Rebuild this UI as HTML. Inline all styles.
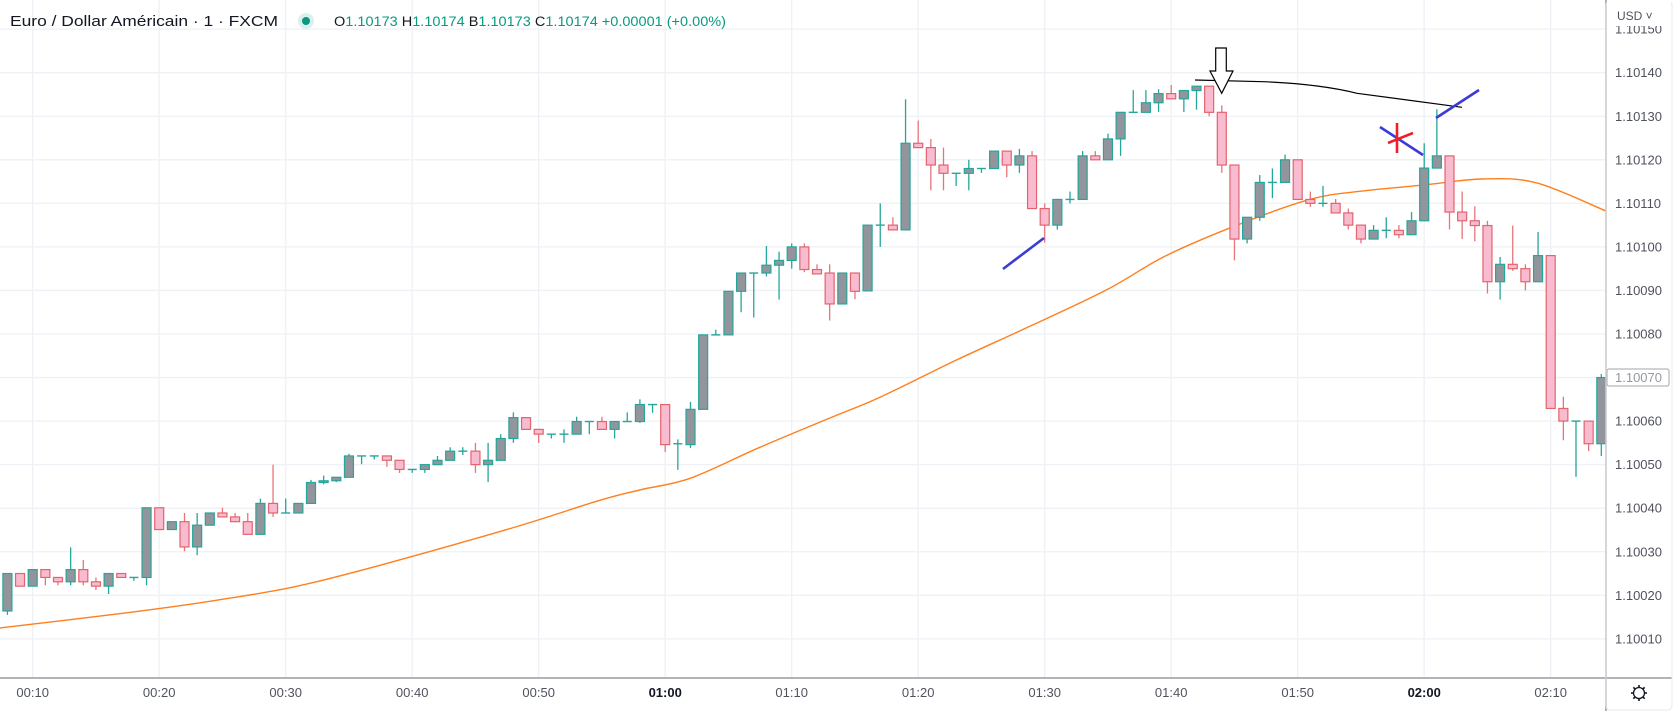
<!DOCTYPE html>
<html><head><meta charset="utf-8">
<style>
html,body{margin:0;padding:0;background:#fff;}
svg{display:block;font-family:"Liberation Sans",sans-serif;}
</style></head>
<body>
<svg id="chart" width="1674" height="711" viewBox="0 0 1674 711" xmlns="http://www.w3.org/2000/svg">
  <rect x="0" y="0" width="1674" height="711" fill="#ffffff"/>
  <g id="grid"></g>
  <g id="ma"></g>
  <g id="candles"></g>
  <g id="drawings">
    <path d="M1195,80 L1263,81.7 Q1320,84 1357,93.3 L1462,107.3" fill="none" stroke="#000" stroke-width="1.2"/>
    <path d="M1215.7,48 L1226.3,48 L1226.3,71 L1233,71 L1221.7,93.3 L1210,71 L1215.7,71 Z" fill="#fff" stroke="#000" stroke-width="1.2"/>
    <line x1="1003" y1="269" x2="1044" y2="238" stroke="#3b3bd6" stroke-width="2.6"/>
    <line x1="1380" y1="127" x2="1423" y2="155" stroke="#3b3bd6" stroke-width="2.6"/>
    <line x1="1436" y1="118" x2="1479" y2="90" stroke="#3b3bd6" stroke-width="2.6"/>
    <line x1="1397" y1="123" x2="1397" y2="153" stroke="#f01e28" stroke-width="2.6"/>
    <line x1="1388" y1="143" x2="1413" y2="133" stroke="#f01e28" stroke-width="2.6"/>
  </g>
  <g id="header">
    <text x="10" y="26" font-size="15" fill="#131722" textLength="268" lengthAdjust="spacingAndGlyphs">Euro / Dollar Américain · 1 · FXCM</text>
    <circle cx="306" cy="21" r="8" fill="#d9f0ec"/>
    <circle cx="306" cy="21" r="4" fill="#089981"/>
    <text x="334" y="26" font-size="13.5" fill="#089981" textLength="392" lengthAdjust="spacingAndGlyphs"><tspan fill="#131722">O</tspan>1.10173 <tspan fill="#131722">H</tspan>1.10174 <tspan fill="#131722">B</tspan>1.10173 <tspan fill="#131722">C</tspan>1.10174 +0.00001 (+0.00%)</text>
  </g>
  <g id="axes"></g>
</svg>
<script>
// ---- data (points above 1.10000, in 0.00001 units) ----
const startMinute = 8;
const opens  = [16.4,25,22.1,25.9,24.1,23.1,25.9,23.1,22.1,25,24.1,24.1,40.1,35.1,36.9,31.1,36.1,38.9,38,36.9,34,41.1,38.9,38.9,41.1,45.9,46.3,47.1,52,52,52,51,48.9,48.9,50,51,53.1,53.1,50,51,56,60.8,58.1,57,57,57,59.9,59.9,58.1,59.9,59.9,63.8,63.8,54.8,54.6,62.7,79.8,79.8,89.8,94,94,95.8,96.9,100,94.8,94,86.9,94,89.9,105,105,103.9,123.8,122.8,118.8,116.9,116.9,118,118,122,118.8,120.9,108.8,105,110.9,110.9,120.9,120,124.8,130.9,130.9,133.1,135.2,134,135.9,136.9,130.9,118.8,101.8,106.8,114.8,114.8,120,110.9,110,110,107.8,105,101.8,103.8,103.8,102.8,106,118.1,120.9,108,106,104.9,92,96,95,92,98,62.9,60,60,54.8];
const highs  = [25,25,25.9,25.9,24.1,31,28.1,24.1,25,25,24.1,40.1,40.1,36.9,38.9,38.9,38.9,40.1,38.9,38.9,42.2,50,42.2,41.1,46.5,47.5,47.1,52.5,52,52,52,51,48.9,50,52,54,54,55,55,57,62,60.8,58.1,57,58.1,61,59.9,61,59.9,62,65,63.8,63.8,55.8,64.4,79.8,81,89.8,94,94,100.2,98.9,100.8,100.8,96,96,94,94,105,110,106.8,133.9,129,124.8,122.8,116.9,120,118,122,122,122.5,122,110,110.9,112.7,122,122,126,130.9,136,136,136.2,137.2,135.9,136.9,136.9,132.5,118.8,106.8,116.5,118,121.2,120,112.7,114,111,108.8,105,105,106.8,105,108,123.8,131.6,120.9,112.7,109.3,106,97.7,104.9,96,103.4,98,65.6,60,60,70.8];
const lows   = [15.5,22.1,22.1,22.3,22.3,22.3,22.3,21.2,20.3,24.1,23.3,22.3,35.1,35.1,30.1,29.2,36.1,38,36.9,34,34,38,38.9,38.9,41.1,45.5,46,47.1,50.1,51.2,49.5,48.1,48.1,48.1,50,51,52.2,48.1,46,51,55,58.1,55,56,55,57,57,58.1,56,59.9,59.6,61.9,52.9,48.8,53.8,62.7,79.8,79.8,85,83.8,93.2,87.9,95,94.2,93.8,83.1,86.9,88,89.9,100,103.9,103.9,122.8,113,113,114,113,117,118,116,117,108.8,101,104,110,110.9,120,120,120.9,130.9,130.9,131,134,131,131.5,130,117,96.9,100.8,106,111.2,114.8,110.9,109.2,109.2,107.8,104,100.8,101.8,102,102,102.8,106,118.1,104,101.8,101.3,89.3,87.9,94.5,90,92,62.9,55.6,47.2,53.1,52];
const closes = [25,22.1,25.9,24.1,23.1,25.9,23.1,22.1,25,24.1,24.1,40.1,35.1,36.9,31.1,36.1,38.9,38,36.9,34,41.1,38.9,38.9,41.1,45.9,46.3,47.1,52,52,52,51,48.9,48.9,50,51,53.1,53.1,50,51,56,60.8,58.1,57,57,57,59.9,59.9,58.1,59.9,59.9,63.8,63.8,54.6,54.8,62.7,79.8,79.8,89.8,94,94,95.8,96.9,100,94.8,93.8,86.9,94,89.8,105,105,103.9,123.8,122.8,118.8,116.9,116.9,118,118,122,118.8,120.9,108.8,105,110.9,110.9,120.9,120,124.8,130.9,130.9,133.1,135.2,134,135.9,136.9,130.9,118.8,101.8,106.8,114.8,114.8,120,110.9,110,110,107.8,105,101.8,103.8,103.8,102.8,106,118.1,120.9,108,106,104.9,92,96,95,92,98,62.9,60,60,54.8,70];
const maMinutes = [7.4,17.5,24.8,32.7,47,54.6,58,62,67.5,73,77,83,89,95,99.4,104.6,110.7,114.7,119.9,124.6,128.9,134.4];
const maValues  = [12.5,16,19,23.3,34.7,41.6,44.2,46.9,54,60.7,65.5,74,82,90.3,97.7,104.3,110.7,112.7,114.2,115.6,114.7,108.2];
const priceTicks = [150,140,130,120,110,100,90,80,70,60,50,40,30,20,10];
const timeTickMinutes = [10,20,30,40,50,60,70,80,90,100,110,120,130];
const timeTickLabels = ["00:10","00:20","00:30","00:40","00:50","01:00","01:10","01:20","01:30","01:40","01:50","02:00","02:10"];
const lastPrice = 70;

// ---- axis functions ----
const NS = "http://www.w3.org/2000/svg";
const xOf = m => 32.7 + (m - 10) * 12.65;
const yOf = v => 72.7 + (140 - v) * 4.355;
const fmt = v => (1.1 + v / 100000).toFixed(5);
function mk(tag, attrs, parent){ const e=document.createElementNS(NS,tag); for(const k in attrs) e.setAttribute(k,attrs[k]); parent.appendChild(e); return e; }

const grid = document.getElementById('grid');
const axes = document.getElementById('axes');
const PLOT_R = 1606, PLOT_B = 678;

priceTicks.forEach(v => {
  const y = yOf(v);
  const l = mk('line',{x1:0,x2:PLOT_R,y1:y,y2:y,stroke:'#eef1f6','stroke-width':1.3},grid);
  
  
});
timeTickMinutes.forEach(m => {
  const x = xOf(m);
  const l = mk('line',{x1:x,x2:x,y1:0,y2:PLOT_B,stroke:'#eef1f6','stroke-width':1.3},grid);
  
  
});

// moving average (smooth Catmull-Rom through read points)
const pts = maMinutes.map((m,i) => [xOf(m), yOf(maValues[i])]);
let d = 'M' + pts[0][0].toFixed(1) + ',' + pts[0][1].toFixed(1);
for (let i = 0; i < pts.length - 1; i++) {
  const p0 = pts[Math.max(0,i-1)], p1 = pts[i], p2 = pts[i+1], p3 = pts[Math.min(pts.length-1,i+2)];
  const c1x = p1[0] + (p2[0]-p0[0])/6, c1y = p1[1] + (p2[1]-p0[1])/6;
  const c2x = p2[0] - (p3[0]-p1[0])/6, c2y = p2[1] - (p3[1]-p1[1])/6;
  d += ' C' + c1x.toFixed(1)+','+c1y.toFixed(1)+' '+c2x.toFixed(1)+','+c2y.toFixed(1)+' '+p2[0].toFixed(1)+','+p2[1].toFixed(1);
}
const maPath = mk('path',{d:d,fill:'none',stroke:'#ff7f1e','stroke-width':1.4,'stroke-linejoin':'round'},document.getElementById('ma'));



// candles
const cg = document.getElementById('candles');
opens.forEach((o,i) => {
  const m = startMinute + i, c = closes[i], h = highs[i], lo = lows[i];
  const x = xOf(m);
  const up = c >= o;
  const g = mk('g',{},cg);
  
  
  const wickCol = up ? '#26a69a' : '#e8737a';
  mk('line',{x1:x,x2:x,y1:yOf(h),y2:yOf(lo),stroke:wickCol,'stroke-width':1.3},g);
  const top = yOf(Math.max(o,c)), bot = yOf(Math.min(o,c));
  if (bot - top < 1.2) {
    mk('line',{x1:x-4.5,x2:x+4.5,y1:top,y2:top,stroke:wickCol,'stroke-width':1.4},g);
  } else {
    mk('rect',{x:x-4.5,y:top,width:9,height:bot-top,fill:up?'#93959c':'#f8bbd0',stroke:up?'#26a69a':'#e2646d','stroke-width':1.2},g);
  }
});

// axes
mk('rect',{x:PLOT_R,y:0,width:1674-PLOT_R,height:711,fill:'#fff'},axes);
mk('rect',{x:0,y:PLOT_B,width:PLOT_R,height:711-PLOT_B,fill:'#fff'},axes);
mk('line',{x1:PLOT_R,x2:PLOT_R,y1:0,y2:711,stroke:'#9a9ca3','stroke-width':1.6},axes);
mk('line',{x1:0,x2:1672,y1:PLOT_B,y2:PLOT_B,stroke:'#9a9ca3','stroke-width':1.6},axes);
mk('rect',{x:PLOT_R,y:1,width:66,height:709,fill:'none',stroke:'#e6e8ec','stroke-width':1,rx:4},axes);

priceTicks.forEach(v => {
  const y = yOf(v);
  if (y < 27) return;
  const t = mk('text',{x:1615,y:y+4.5,'font-size':13,fill:'#50535e'},axes);
  t.textContent = fmt(v);
  
  
});
mk('rect',{x:1607,y:0,width:64,height:26,fill:'#fff'},axes);
const usd = mk('text',{x:1617,y:20,'font-size':12,fill:'#50535e'},axes);
usd.textContent = 'USD ˅';



// last price label
const lp = mk('g',{},axes);


mk('rect',{x:1607,y:yOf(lastPrice)-8.5,width:62,height:17,fill:'#fff',stroke:'#a3a6ad','stroke-width':1,rx:2},lp);
const lpt = mk('text',{x:1615,y:yOf(lastPrice)+4.5,'font-size':13,fill:'#9598a1'},lp);
lpt.textContent = fmt(lastPrice);

timeTickMinutes.forEach((m,i) => {
  const lbl = timeTickLabels[i];
  const bold = lbl.endsWith(':00');
  const t = mk('text',{x:xOf(m),y:697,'font-size':13,'text-anchor':'middle',fill:bold?'#131722':'#50535e','font-weight':bold?'bold':'normal'},axes);
  t.textContent = lbl;
  
  
});

// settings gear
const gear = mk('g',{},axes);


mk('circle',{cx:1639,cy:693,r:5.5,fill:'none',stroke:'#131722','stroke-width':1.3},gear);
for (let k=0;k<8;k++){
  const a = k*Math.PI/4;
  mk('line',{x1:1639+Math.cos(a)*5.5,y1:693+Math.sin(a)*5.5,x2:1639+Math.cos(a)*8,y2:693+Math.sin(a)*8,stroke:'#131722','stroke-width':1.6},gear);
}
</script>
</body></html>
